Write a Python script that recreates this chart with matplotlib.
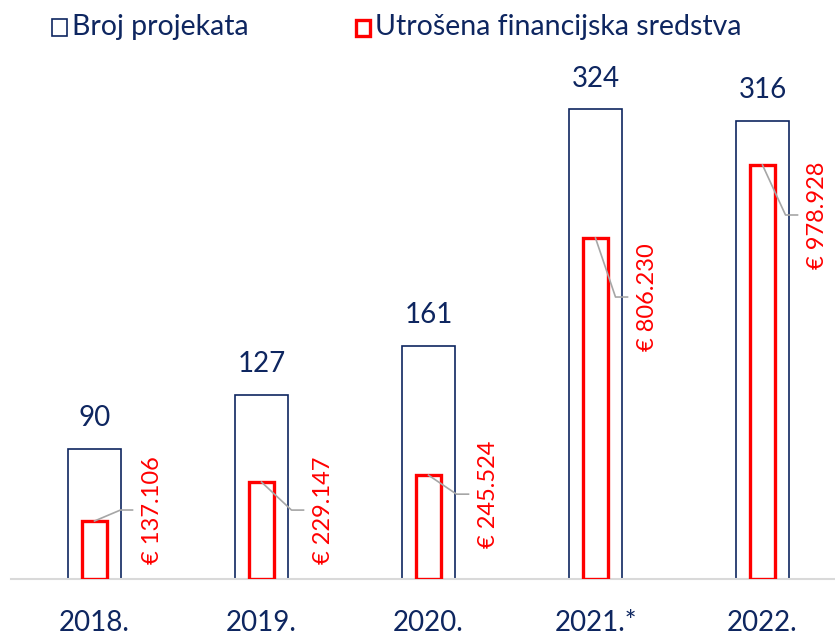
import matplotlib
matplotlib.use("Agg")
import matplotlib.pyplot as plt
from matplotlib.patches import Rectangle
from matplotlib.lines import Line2D

plt.rcParams['font.family'] = ['Lato', 'DejaVu Sans']

years = ["2018.", "2019.", "2020.", "2021.*", "2022."]
projects = [90, 127, 161, 324, 316]
funds = [137106, 229147, 245524, 806230, 978928]
fund_labels = ["€ 137.106", "€ 229.147", "€ 245.524", "€ 806.230", "€ 978.928"]

NAVY = "#0E2660"
RED = "#FF0000"
GRAY = "#A6A6A6"

W, H = 835, 635
fig = plt.figure(figsize=(W / 100, H / 100), dpi=100)
base_y = 579
top_y = 71.5
left_px = 11
ax = fig.add_axes([left_px / W, (H - base_y) / H, (W - left_px) / W, (base_y - top_y) / H])
ax2 = ax.twinx()

x = list(range(len(years)))
ax.bar(x, projects, width=0.32, fill=False, edgecolor=NAVY, linewidth=1.2, zorder=2)
ax2.bar(x, funds, width=0.15, fill=False, edgecolor=RED, linewidth=2.4, zorder=3)

ax.set_xlim(-0.5, (W - left_px) / 167 - 0.5)
ax.set_ylim(0, 350)
ax2.set_ylim(0, 1200000)

for a in (ax, ax2):
    for s in a.spines.values():
        s.set_visible(False)
    a.set_yticks([])
ax.spines['bottom'].set_visible(True)
ax.spines['bottom'].set_color("#D9D9D9")
ax.spines['bottom'].set_linewidth(1.5)

ax.set_xticks(x)
ax.set_xticklabels(years, fontsize=20, color=NAVY)
ax.tick_params(axis='x', length=0, pad=22)

for i, v in enumerate(projects):
    ax.annotate(str(v), xy=(i, v), xytext=(0, 22), textcoords='offset points',
                ha='center', va='center', fontsize=20, color=NAVY)

# leader offsets in pixels (dx, dy) from the inner bar top to the label joint
offsets = [(38, 11), (42, -28), (40, -19), (32, -59), (35, -50)]
fig.canvas.draw()
for i, v in enumerate(funds):
    px, py = ax2.transData.transform((i, v))
    dx, dy = offsets[i]
    bx, by = px + dx - 12, py + dy
    cx, cy = px + dx, py + dy
    fig.add_artist(Line2D([px, bx, cx], [py, by, cy], transform=None,
                          color=GRAY, linewidth=1.2, zorder=5))
    fig.text(cx + 20, cy, fund_labels[i], transform=None, rotation=90,
             ha='center', va='center', fontsize=17, color=RED)

# legend
fig.add_artist(Rectangle((52, H - 36), 15, 17, transform=None, fill=False,
                         edgecolor=NAVY, linewidth=1.2))
fig.text(72, H - 27, "Broj projekata", transform=None, ha='left', va='center',
         fontsize=20.5, color=NAVY)
fig.add_artist(Rectangle((356, H - 36), 14, 16, transform=None, fill=False,
                         edgecolor=RED, linewidth=2.4))
fig.text(375, H - 27, "Utrošena financijska sredstva", transform=None, ha='left',
         va='center', fontsize=20.5, color=NAVY)

fig.savefig("out.png", dpi=100)
